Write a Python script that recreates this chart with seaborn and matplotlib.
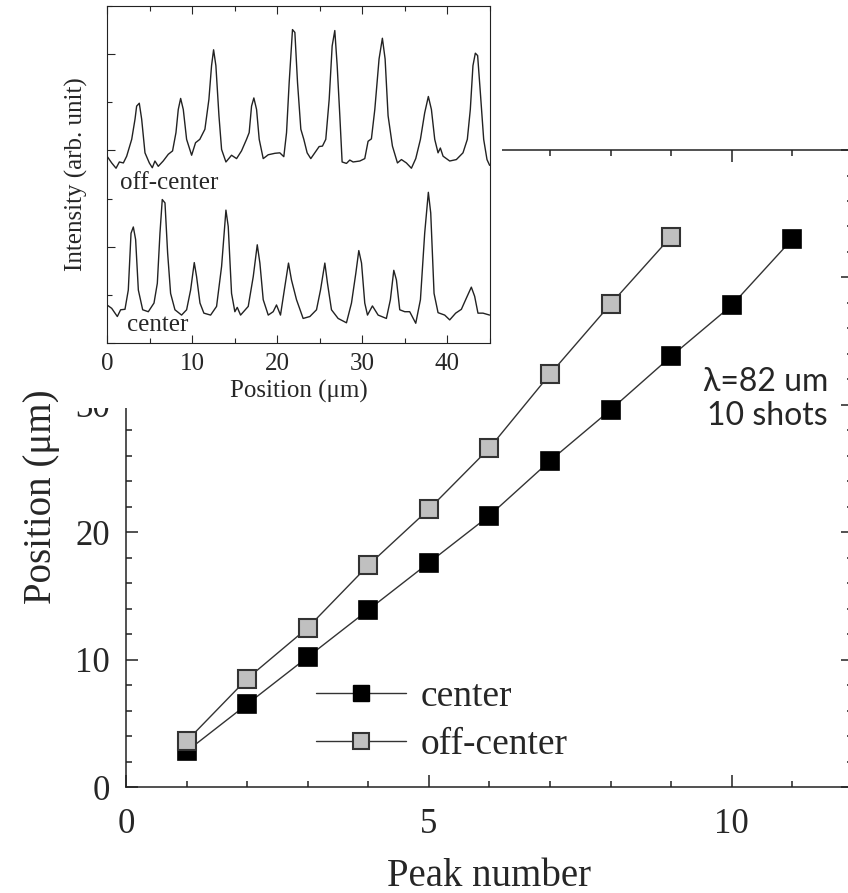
import matplotlib
matplotlib.use('Agg')
import matplotlib.pyplot as plt
from matplotlib.lines import Line2D
from matplotlib.patches import Rectangle
from matplotlib.ticker import MultipleLocator, FuncFormatter
import seaborn as sns

# main plot: peak positions vs peak number
peak_center = [1, 2, 3, 4, 5, 6, 7, 8, 9, 10, 11]
pos_center = [2.8, 6.5, 10.2, 13.9, 17.6, 21.3, 25.6, 29.6, 33.8, 37.8, 43.0]
peak_off = [1, 2, 3, 4, 5, 6, 7, 8, 9]
pos_off = [3.6, 8.5, 12.5, 17.4, 21.8, 26.6, 32.4, 37.9, 43.2]
series_labels = ['center', 'off-center']

# inset: intensity profiles
off_x = [0, 0.55, 1.06, 1.45, 1.92, 2.31, 2.9, 3.29, 3.48, 3.79, 4.07, 4.46, 4.97, 5.32,
         5.63, 6.02, 6.6, 7.2, 7.7, 8.1, 8.37, 8.65, 8.96, 9.35, 9.94, 10.4, 10.9, 11.5,
         11.97, 12.28, 12.52, 12.79, 13.15, 13.46, 13.97, 14.63, 15.22, 15.8, 16.39, 16.7,
         16.98, 17.25, 17.57, 17.88, 18.35, 18.94, 19.72, 20.3, 20.77, 21.09, 21.4, 21.79,
         22.07, 22.38, 22.77, 23.12, 23.51, 23.94, 24.41, 24.92, 25.31, 25.7, 26.1, 26.45,
         26.76, 27.04, 27.35, 27.62, 28.13, 28.52, 28.91, 29.7, 30.28, 30.67, 31.06, 31.46,
         31.96, 32.35, 32.67, 33.02, 33.53, 34.12, 34.59, 35.17, 35.76, 36.27, 36.82, 37.32,
         37.75, 38.11, 38.5, 38.89, 39.16, 39.48, 40.26, 41.04, 41.82, 42.33, 42.68, 42.99,
         43.27, 43.54, 43.86, 44.25, 44.64, 44.95]
off_y = [3.88, 3.74, 3.63, 3.76, 3.74, 3.88, 4.23, 4.65, 4.92, 4.98, 4.65, 3.95, 3.74, 3.64,
         3.78, 3.67, 3.78, 3.92, 3.99, 4.37, 4.85, 5.08, 4.85, 4.23, 3.9, 4.16, 4.23, 4.44,
         5.06, 5.76, 6.09, 5.76, 4.72, 4.02, 3.76, 3.9, 3.83, 3.99, 4.23, 4.37,
         4.92, 5.09, 4.85, 4.23, 3.83, 3.91, 3.94, 3.95, 3.87, 4.37, 5.41, 6.51,
         6.45, 5.41, 4.44, 4.23, 3.95, 3.83, 3.95, 4.08, 4.09, 4.23, 5.06, 6.17,
         6.49, 5.76, 4.72, 3.76, 3.73, 3.8, 3.76, 3.78, 3.83, 4.19, 4.24, 4.85,
         5.9, 6.33, 5.9, 4.72, 4.09, 3.74, 3.81, 3.74, 3.63, 3.83, 4.23, 4.78,
         5.12, 4.85, 4.23, 3.95, 4.05, 3.88, 3.78, 3.81, 3.95, 4.23, 4.85, 5.76,
         6.02, 5.97, 5.2, 4.23, 3.81, 3.69]
cen_x = [0, 0.55, 1.21, 1.6, 2.11, 2.5, 2.82, 3.09, 3.36, 3.68, 4.19, 4.85, 5.52, 5.91,
         6.22, 6.49, 6.81, 7.12, 7.47, 7.98, 8.76, 9.35, 9.82, 10.25, 10.52, 10.92, 11.38,
         12.17, 12.87, 13.46, 13.97, 14.24, 14.63, 15.02, 15.3, 15.69, 16.59, 17.18, 17.65,
         17.96, 18.35, 18.94, 19.52, 19.91, 20.38, 20.89, 21.32, 21.67, 22.26, 23.04, 23.83,
         24.61, 25.08, 25.59, 25.9, 26.37, 27.15, 28.13, 28.72, 29.23, 29.58, 29.9, 30.28,
         30.6, 31.18, 31.85, 32.82, 33.29, 33.69, 34.0, 34.39, 34.98, 35.56, 36.27, 36.82,
         37.32, 37.75, 38.03, 38.42, 38.89, 39.67, 40.26, 40.96, 41.63, 42.21, 42.8, 43.19,
         43.58, 44.17, 44.95]
cen_y = [0.79, 0.72, 0.55, 0.69, 0.7, 1.1, 2.28, 2.41, 2.15, 1.1, 0.69, 0.65, 0.83, 1.24,
         2.28, 2.98, 2.91, 1.87, 1.03, 0.69, 0.58, 0.69, 1.1, 1.67, 1.38, 0.83, 0.62,
         0.58, 0.76, 1.59, 2.76, 2.42, 1.03, 0.65, 0.74, 0.58, 0.76, 1.38, 2.04,
         1.66, 0.9, 0.58, 0.65, 0.79, 0.58, 1.17, 1.66, 1.31, 0.9, 0.51, 0.55,
         0.69, 1.1, 1.66, 1.24, 0.69, 0.51, 0.42, 0.83, 1.45, 1.92, 1.66, 0.83,
         0.58, 0.77, 0.58, 0.51, 0.9, 1.51, 1.31, 0.69, 0.65, 0.65, 0.41, 0.9,
         2.28, 3.13, 2.7, 1.03, 0.63, 0.58, 0.48, 0.62, 0.7, 0.93, 1.16, 0.97,
         0.62, 0.62, 0.58]

sns.set_theme(style='ticks')
plt.rcParams['font.family'] = ['Liberation Serif', 'DejaVu Serif']
plt.rcParams['axes.edgecolor'] = '#222222'

fig = plt.figure(figsize=(8.48, 8.93), dpi=100)
ax = fig.add_axes([0.1486, 0.1187, 0.857, 0.7133])

sns.lineplot(x=peak_center, y=pos_center, ax=ax, color='#333333', lw=1, sort=False,
             marker='s', markersize=13, markerfacecolor='black',
             markeredgecolor='black', markeredgewidth=1.2)
sns.lineplot(x=peak_off, y=pos_off, ax=ax, color='#333333', lw=1, sort=False,
             marker='s', markersize=13, markerfacecolor='#c0c0c0',
             markeredgecolor='#333333', markeredgewidth=1.5)

ax.set_xlim(0, 12)
ax.set_ylim(0, 50)
ax.xaxis.set_major_locator(MultipleLocator(5))
ax.xaxis.set_minor_locator(MultipleLocator(1))
ax.yaxis.set_major_locator(MultipleLocator(10))
ax.yaxis.set_minor_locator(MultipleLocator(2))
# labels 40 and 50 sit under the inset anyway
ax.yaxis.set_major_formatter(FuncFormatter(lambda v, p: '' if v >= 40 else f'{v:g}'))
ax.tick_params(which='both', direction='in', top=True, right=True, width=1.1,
               color='#222222', labelsize=25)
ax.tick_params(which='major', length=8.6)
ax.tick_params(which='minor', length=4.3)
ax.tick_params(axis='x', pad=15)
ax.tick_params(axis='y', pad=11.5)
for s in ax.spines.values():
    s.set_linewidth(1.1)
ax.set_xlabel('Peak number', fontsize=28, labelpad=12)
ax.set_ylabel('Position (μm)', fontsize=28, labelpad=11)
ax.yaxis.label.set_y(0.455)

handles = [
    Line2D([], [], color='#333333', lw=1, marker='s', markersize=11,
           markerfacecolor='black', markeredgecolor='black'),
    Line2D([], [], color='#333333', lw=1, marker='s', markersize=11,
           markerfacecolor='#c0c0c0', markeredgecolor='#333333', markeredgewidth=1.5),
]
ax.legend(handles, series_labels, loc='center left', bbox_to_anchor=(0.261, 0.104),
          frameon=False, fontsize=27, handlelength=2.4, handletextpad=0.4,
          labelspacing=0.35, borderpad=0, borderaxespad=0)

ax.text(0.966, 0.609, 'λ=82 um\n10 shots', transform=ax.transAxes, ha='right', va='center',
        multialignment='right', fontsize=23, family=['Lato', 'Open Sans', 'DejaVu Sans'])

# white block behind the inset
fig.add_artist(Rectangle((0.0684, 0.5431), 0.5236, 0.4569, transform=fig.transFigure,
                         facecolor='white', edgecolor='none', zorder=2))

ins = fig.add_axes([0.1262, 0.6159, 0.4517, 0.3774], zorder=3)
sns.lineplot(x=off_x, y=off_y, ax=ins, color='#222222', lw=1, sort=False)
sns.lineplot(x=cen_x, y=cen_y, ax=ins, color='#222222', lw=1, sort=False)
ins.set_xlim(0, 45)
ins.set_ylim(0, 7)
ins.xaxis.set_major_locator(MultipleLocator(10))
ins.xaxis.set_minor_locator(MultipleLocator(5))
ins.yaxis.set_major_locator(MultipleLocator(2))
ins.yaxis.set_minor_locator(MultipleLocator(1))
ins.tick_params(which='both', direction='in', top=True, width=0.8, labelsize=18,
                labelleft=False)
ins.tick_params(which='major', length=5.8)
ins.tick_params(which='minor', length=3.6)
ins.tick_params(axis='x', pad=7)
for s in ins.spines.values():
    s.set_linewidth(0.8)
ins.set_xlabel('Position (μm)', fontsize=18, labelpad=4)
ins.set_ylabel('Intensity (arb. unit)', fontsize=18, labelpad=14)
ins.text(1.5, 3.33, 'off-center', fontsize=18, ha='left', va='center')
ins.text(2.35, 0.375, 'center', fontsize=18, ha='left', va='center')

fig.savefig('out.png', dpi=100)
